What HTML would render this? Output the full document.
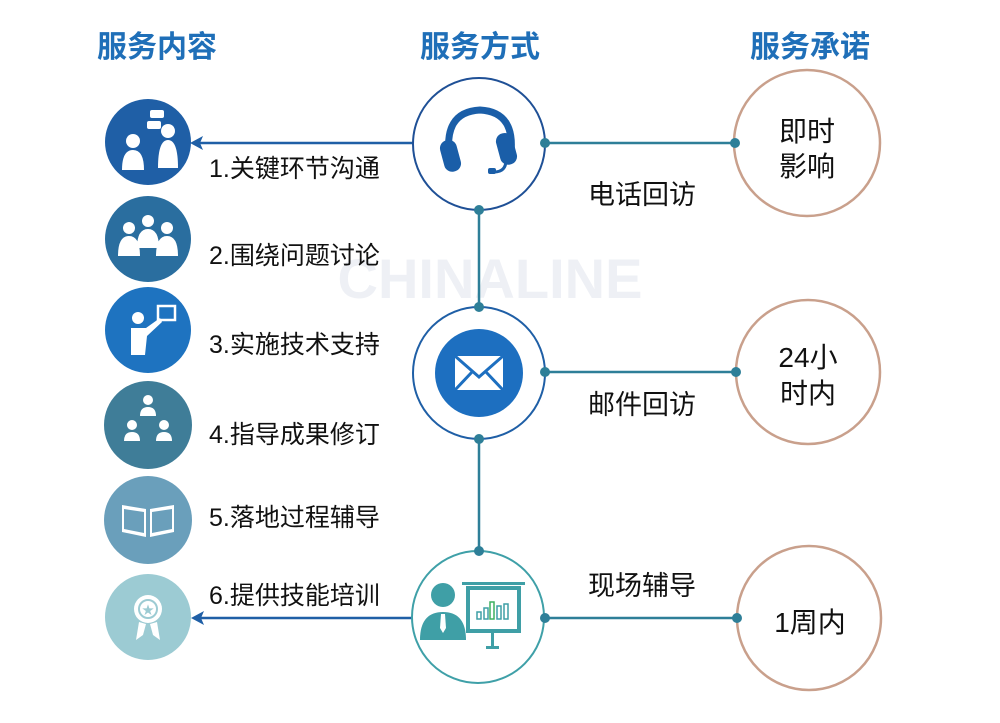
<!DOCTYPE html>
<html><head><meta charset="utf-8"><style>
html,body{margin:0;padding:0;background:#fff;}
svg{display:block;font-family:"Liberation Sans","Noto Sans CJK SC",sans-serif;}
</style></head><body>
<svg width="1000" height="723" viewBox="0 0 1000 723" xmlns="http://www.w3.org/2000/svg">
<text x="490" y="298" font-size="56" font-weight="bold" fill="#eef0f5" text-anchor="middle">CHINALINE</text>
<g font-size="30" fill="#1f6fb8" text-anchor="middle" font-weight="bold">
<text x="157" y="57">服务内容</text>
<text x="480" y="57">服务方式</text>
<text x="810" y="57">服务承诺</text>
</g>
<line x1="479" y1="210" x2="479" y2="307" stroke="#2e7f98" stroke-width="2.5"/>
<line x1="479" y1="439" x2="479" y2="551" stroke="#2e7f98" stroke-width="2.5"/>
<line x1="545" y1="143" x2="735" y2="143" stroke="#2e7f98" stroke-width="2.5"/>
<line x1="545" y1="372" x2="736" y2="372" stroke="#2e7f98" stroke-width="2.5"/>
<line x1="545" y1="618" x2="737" y2="618" stroke="#2e7f98" stroke-width="2.5"/>
<line x1="413" y1="143" x2="200" y2="143" stroke="#1f5fa6" stroke-width="2.5"/>
<polygon points="190,143 203,136 200,143 203,150" fill="#1f5fa6"/>
<line x1="412" y1="618" x2="200" y2="618" stroke="#1f5fa6" stroke-width="2.5"/>
<polygon points="191,618 204,611 201,618 204,625" fill="#1f5fa6"/>
<circle cx="479" cy="144" r="66" fill="#fff" stroke="#1f5096" stroke-width="2"/>
<circle cx="479" cy="373" r="66" fill="#fff" stroke="#1f5fa6" stroke-width="2"/>
<circle cx="478" cy="617" r="66" fill="#fff" stroke="#3fa0a8" stroke-width="2"/>
<g fill="#2e7f98">
<circle cx="545" cy="143" r="5"/><circle cx="479" cy="210" r="5"/>
<circle cx="479" cy="307" r="5"/><circle cx="545" cy="372" r="5"/><circle cx="479" cy="439" r="5"/>
<circle cx="479" cy="551" r="5"/><circle cx="545" cy="618" r="5"/>
</g>
<g fill="none" stroke="#1a5ea8" stroke-width="7" stroke-linecap="round">
<path d="M450 160 Q442 112 480 110 Q518 112 510 160"/>
</g>
<rect x="442" y="140" width="17" height="32" rx="8" fill="#1a5ea8" transform="rotate(-15 450 156)"/>
<rect x="498" y="133" width="17" height="32" rx="8" fill="#1a5ea8" transform="rotate(-15 506 149)"/>
<path d="M506 160 Q506 172 494 172" stroke="#1a5ea8" stroke-width="3" fill="none"/>
<rect x="488" y="168" width="8" height="6" rx="2" fill="#1a5ea8"/>
<circle cx="479" cy="373" r="44" fill="#1d6fc0"/>
<rect x="455" y="356" width="48" height="34" fill="#fff"/>
<path d="M455 356 L479 377 L503 356 M455 390 L472 372 M503 390 L486 372" stroke="#1d6fc0" stroke-width="3" fill="none"/>
<circle cx="443" cy="595" r="12" fill="#3f9fa6"/>
<path d="M420 640 Q420 612 443 612 Q466 612 466 640 Z" fill="#3f9fa6"/>
<path d="M441 614 L445 614 L446 628 L443 633 L440 628Z" fill="#fff"/>
<rect x="462" y="582" width="63" height="3" fill="#3f9fa6"/>
<rect x="468" y="588" width="51" height="43" fill="#fff" stroke="#3f9fa6" stroke-width="4"/>
<g fill="none" stroke="#3f9fa6" stroke-width="1.5"><rect x="477" y="612" width="4" height="7"/><rect x="484" y="608" width="4" height="11"/><rect x="497" y="606" width="4" height="13"/><rect x="504" y="604" width="4" height="15"/></g>
<rect x="490" y="602" width="4" height="17" fill="none" stroke="#3fb060" stroke-width="1.5"/>
<rect x="491" y="633" width="3" height="13" fill="#3f9fa6"/><rect x="486" y="646" width="13" height="3" fill="#3f9fa6"/>
<circle cx="148" cy="142" r="43" fill="#1f5fa6"/>
<circle cx="148" cy="239" r="43" fill="#2a6e9f"/>
<circle cx="148" cy="330" r="43" fill="#1e73c0"/>
<circle cx="148" cy="425" r="44" fill="#3f7d98"/>
<circle cx="148" cy="520" r="44" fill="#6a9fbb"/>
<circle cx="148" cy="617" r="43" fill="#9ccbd3"/>
<g fill="#fff">
<circle cx="133" cy="141" r="7"/><path d="M122 170 Q122 150 133 150 Q144 150 144 170Z"/>
<circle cx="168" cy="131" r="7"/><path d="M158 168 Q158 140 168 140 Q178 140 178 168Z"/>
<rect x="147" y="121" width="14" height="8" rx="2"/><rect x="150" y="110" width="14" height="8" rx="2"/>
<circle cx="129" cy="228" r="6"/><circle cx="148" cy="221" r="6"/><circle cx="167" cy="228" r="6"/>
<path d="M118 256 Q118 236 129 236 Q140 236 140 256Z M137 248 Q137 229 148 229 Q159 229 159 248Z M156 256 Q156 236 167 236 Q178 236 178 256Z"/>
<circle cx="138" cy="318" r="6"/><path d="M131 355 L131 328 L146 328 L160 318 L162 322 L147 336 L145 355Z"/>
<rect x="158" y="306" width="17" height="14" fill="none" stroke="#fff" stroke-width="2.5"/>
<circle cx="148" cy="400" r="5"/><path d="M140 416 Q140 407 148 407 Q156 407 156 416Z"/>
<circle cx="132" cy="425" r="5"/><path d="M124 441 Q124 432 132 432 Q140 432 140 441Z"/>
<circle cx="164" cy="425" r="5"/><path d="M156 441 Q156 432 164 432 Q172 432 172 441Z"/>
<path d="M122 505 L146 509 L146 537 L122 532Z M150 509 L174 505 L174 532 L150 537Z"/>
<circle cx="148" cy="609" r="14"/><path d="M139 622 L136 640 L143 635 L146 624Z M157 622 L160 640 L153 635 L150 624Z"/>
</g>
<path d="M124 509 L144 512 L144 533 L124 529Z M152 512 L172 509 L172 529 L152 533Z" fill="#6a9fbb"/>
<circle cx="148" cy="609" r="9" fill="none" stroke="#9ccbd3" stroke-width="2"/>
<text x="148" y="614" font-size="12" fill="#9ccbd3" text-anchor="middle">★</text>
<g font-size="25" fill="#111">
<text x="209" y="177">1.关键环节沟通</text>
<text x="209" y="264">2.围绕问题讨论</text>
<text x="209" y="353">3.实施技术支持</text>
<text x="209" y="443">4.指导成果修订</text>
<text x="209" y="526">5.落地过程辅导</text>
<text x="209" y="604">6.提供技能培训</text>
</g>
<g font-size="27" fill="#111" text-anchor="middle">
<text x="642" y="204">电话回访</text>
<text x="642" y="414">邮件回访</text>
<text x="642" y="595">现场辅导</text>
</g>
<g fill="#fff" stroke="#c9a08c" stroke-width="2.5">
<circle cx="807" cy="143" r="73"/>
<circle cx="808" cy="372" r="72"/>
<circle cx="809" cy="618" r="72"/>
</g>
<g fill="#2e7f98"><circle cx="735" cy="143" r="5"/><circle cx="736" cy="372" r="5"/><circle cx="737" cy="618" r="5"/></g>
<g font-size="28" fill="#111" text-anchor="middle">
<text x="807" y="141">即时</text>
<text x="807" y="176">影响</text>
<text x="808" y="367">24小</text>
<text x="808" y="403">时内</text>
<text x="810" y="632">1周内</text>
</g>
</svg>
</body></html>
